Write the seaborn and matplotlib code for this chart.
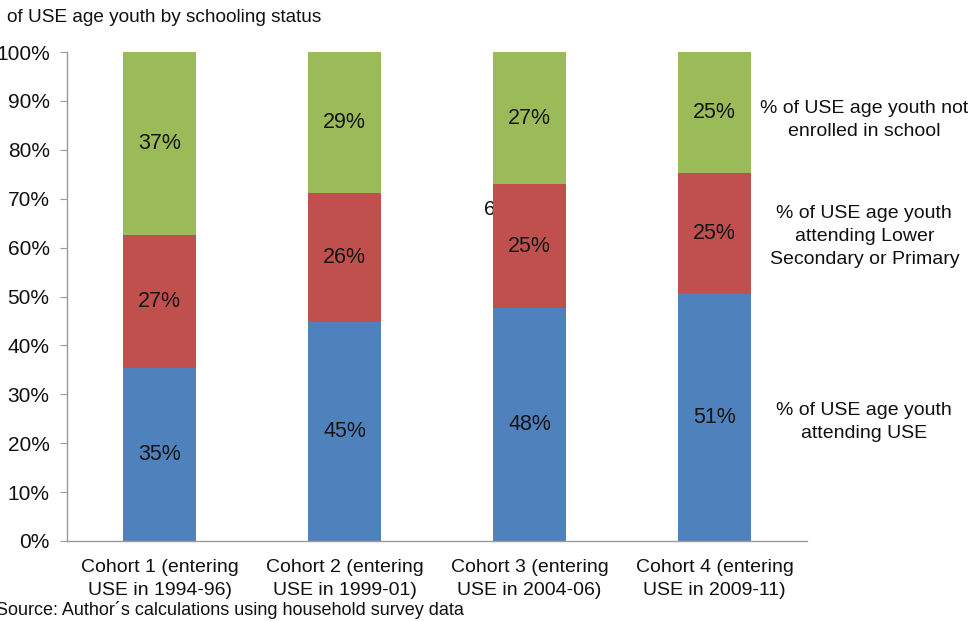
import matplotlib
matplotlib.use("Agg")
import matplotlib.pyplot as plt
import seaborn as sns
import pandas as pd

cohorts = ["Cohort 1 (entering\nUSE in 1994-96)", "Cohort 2 (entering\nUSE in 1999-01)",
           "Cohort 3 (entering\nUSE in 2004-06)", "Cohort 4 (entering\nUSE in 2009-11)"]
# shares in percent; the labels show them rounded to whole numbers
attending_use = [35.4, 44.7, 47.6, 50.6]
attending_lower = [27.2, 26.4, 25.4, 24.6]
not_enrolled = [37.4, 28.9, 27.0, 24.8]

series_names = ["% of USE age youth\nattending USE",
                "% of USE age youth\nattending Lower\nSecondary or Primary",
                "% of USE age youth not\nenrolled in school"]
colors = ["#4F81BD", "#C0504D", "#9BBB59"]
yticks = [0, 10, 20, 30, 40, 50, 60, 70, 80, 90, 100]

sns.set_style("white")
plt.rcParams["font.family"] = ["Liberation Sans", "DejaVu Sans"]

fig = plt.figure(figsize=(9.77, 6.21), dpi=100)
ax = fig.add_axes([67 / 977, 1 - 541 / 621, 740 / 977, 489 / 621])

df = pd.DataFrame({"cohort": cohorts, "use": attending_use,
                   "lower": attending_lower, "out": not_enrolled})

# a stray, partly hidden label sitting behind the third bar
ax.text(1.752, 0.677, "60%", fontsize=15, color="#111111", ha="left", va="center", zorder=0)

bottom = [0] * len(cohorts)
for col, color in zip(["use", "lower", "out"], colors):
    vals = [v / 100 for v in df[col]]
    sns.barplot(x=df["cohort"], y=vals, bottom=bottom, color=color, width=0.395,
                saturation=1, linewidth=0, edgecolor="none", ax=ax, zorder=2)
    cont = ax.containers[-1]
    ax.bar_label(cont, labels=[f"{round(v)}%" for v in df[col]], label_type="center",
                 fontsize=15.5, color="#151515")
    bottom = [b + v for b, v in zip(bottom, vals)]

ax.set_xlim(-0.5, 3.5)
ax.set_ylim(0, 1)
ax.set_yticks([t / 100 for t in yticks])
ax.set_yticklabels([f"{t}%" for t in yticks], fontsize=15, color="#111111")
ax.set_xticks(range(len(cohorts)))
ax.set_xticklabels(cohorts, fontsize=14, color="#111111", linespacing=1.45)
ax.set_xlabel("")
ax.set_ylabel("")

ax.set_xticks([-0.5, 0.5, 1.5, 2.5, 3.5], minor=True)
ax.tick_params(axis="x", which="major", length=0, pad=13)
ax.tick_params(axis="x", which="minor", length=5, color="#9a9a9a", direction="out")
ax.tick_params(axis="y", length=5, color="#9a9a9a", direction="out", pad=7.5, left=True)
for s in ["top", "right"]:
    ax.spines[s].set_visible(False)
for s in ["left", "bottom"]:
    ax.spines[s].set_color("#9a9a9a")
    ax.spines[s].set_linewidth(1.0)

# series names written beside the last bar
label_y = [0.243, 0.622, 0.861]
for name, y in zip(series_names, label_y):
    ax.text(3.81, y, name, fontsize=14, ha="center", va="center", linespacing=1.45,
            color="#111111", transform=ax.transData, clip_on=False)

fig.text(7 / 977, 1 - 17 / 621, "of USE age youth by schooling status", fontsize=13.7,
         ha="left", va="center", color="#111111")
fig.text(-4 / 977, 1 - 610 / 621, "Source: Author\u00b4s calculations using household survey data",
         fontsize=13, ha="left", va="center", color="#111111")

fig.savefig("out.png", dpi=100)
